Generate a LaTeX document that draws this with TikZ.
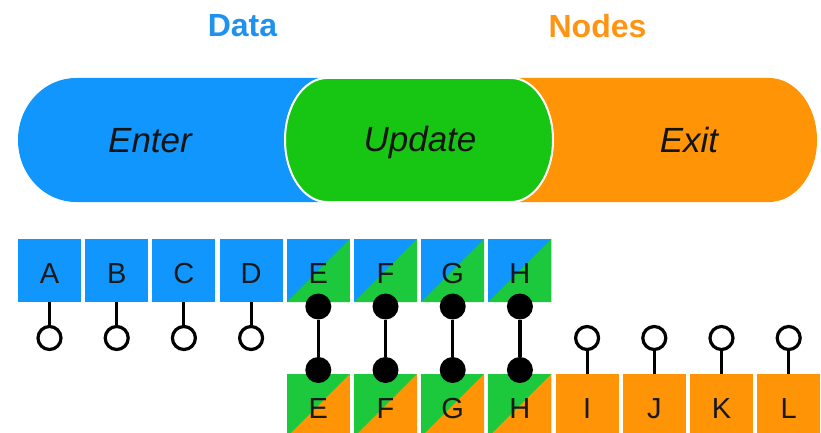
\documentclass[tikz,border=0pt]{standalone}
\usepackage{fontspec}
\setmainfont{Liberation Sans}
\definecolor{enterblue}{HTML}{1096FC}
\definecolor{updategreen}{HTML}{16C612}
\definecolor{cellgreen}{HTML}{1CC83C}
\definecolor{exitorange}{HTML}{FF9406}
\definecolor{titleblue}{HTML}{1E92EE}
\definecolor{titleorange}{HTML}{FF9412}
\begin{document}
\begin{tikzpicture}[x=1pt,y=-1pt,
  title/.style={font=\bfseries\fontsize{32}{32}\selectfont, inner sep=0},
  phase/.style={font=\itshape\fontsize{35}{35}\selectfont, text=black!92, inner sep=0,
    text height=25pt, text depth=0pt},
  cell/.style={anchor=north west, minimum width=63pt, minimum height=63pt,
    inner sep=0, outer sep=0, font=\fontsize{29}{29}\selectfont, text=black!90,
    text height=25pt, text depth=0pt},
  bluecell/.style={cell, fill=enterblue},
  orangecell/.style={cell, fill=exitorange},
  splitcell/.style 2 args={cell, fill=#1, path picture={
    \fill[#2] (path picture bounding box.south west) -- (path picture bounding box.north east)
      -- (path picture bounding box.south east) -- cycle;}},
  ring/.style={circle, draw=black, line width=3.2pt, fill=white, minimum size=23pt, inner sep=0},
  dot/.style={circle, fill=black, minimum size=26pt, inner sep=0},
  stem/.style={line width=3pt},
  link/.style={line width=3.5pt}]
\useasboundingbox (0,0) rectangle (821,433);

% titles
\node[title, text=titleblue] (ttldata) at (242.5,26) {Data};
\node[title, text=titleorange] (ttlnodes) at (597.5,26) {Nodes};

% the three selections
\fill[enterblue] (345,78) -- (76,78) arc[start angle=270, end angle=90, x radius=58, y radius=62]
  -- (345,202) -- cycle;
\fill[exitorange] (495,78) -- (769,78) arc[start angle=270, end angle=450, x radius=48, y radius=62]
  -- (495,202) -- cycle;
\filldraw[fill=updategreen, draw=white, line width=2pt] (327,78) -- (511,78)
  arc[start angle=270, end angle=450, x radius=42, y radius=62] -- (327,202)
  arc[start angle=90, end angle=270, x radius=42, y radius=62] -- cycle;
\node[phase] (enter) at (150,139.5) {Enter};
\node[phase] (update) at (420,139) {Update};
\node[phase] (exit) at (689,139.5) {Exit};

% data row
\node[bluecell] (dA) at (18,239) {A};
\node[bluecell] (dB) at (85.2,239) {B};
\node[bluecell] (dC) at (152.4,239) {C};
\node[bluecell] (dD) at (219.6,239) {D};
\node[splitcell={enterblue}{cellgreen}] (dE) at (286.8,239) {E};
\node[splitcell={enterblue}{cellgreen}] (dF) at (354,239) {F};
\node[splitcell={enterblue}{cellgreen}] (dG) at (421.2,239) {G};
\node[splitcell={enterblue}{cellgreen}] (dH) at (488.4,239) {H};

% node row
\node[splitcell={cellgreen}{exitorange}] (nE) at (286.8,374) {E};
\node[splitcell={cellgreen}{exitorange}] (nF) at (354,374) {F};
\node[splitcell={cellgreen}{exitorange}] (nG) at (421.2,374) {G};
\node[splitcell={cellgreen}{exitorange}] (nH) at (488.4,374) {H};
\node[orangecell] (nI) at (555.6,374) {I};
\node[orangecell] (nJ) at (622.8,374) {J};
\node[orangecell] (nK) at (690,374) {K};
\node[orangecell] (nL) at (757.2,374) {L};

% unbound data: open ends below
\foreach \c in {A,B,C,D} {
  \path (d\c.south) ++(0,36) node[ring] (r\c) {};
  \draw[stem] (d\c.south) -- (r\c.north);
}
% unbound nodes: open ends above
\foreach \c in {I,J,K,L} {
  \path (n\c.north) ++(0,-36) node[ring] (r\c) {};
  \draw[stem] (n\c.north) -- (r\c.south);
}
% bound pairs
\foreach \c in {E,F,G,H} {
  \path (d\c.south) ++(0,4.5) node[dot] (t\c) {};
  \path (n\c.north) ++(0,-4) node[dot] (b\c) {};
  \draw[link] (t\c) -- (b\c);
}
\end{tikzpicture}
\end{document}
